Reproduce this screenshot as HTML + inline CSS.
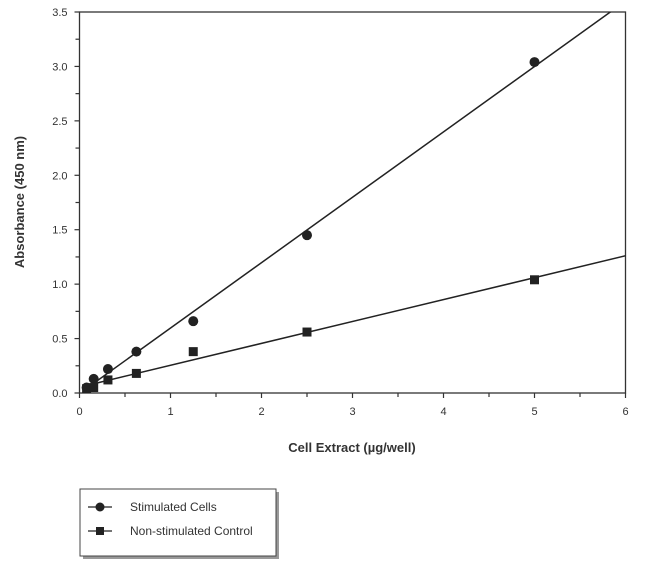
<!DOCTYPE html>
<html><head><meta charset="utf-8"><style>
body{margin:0;background:#fff;}
svg text{font-family:"Liberation Sans",Arial,sans-serif;fill:#333;}
</style></head><body>
<svg width="650" height="571" viewBox="0 0 650 571" xmlns="http://www.w3.org/2000/svg" id="chart">
<defs><clipPath id="plotclip"><rect x="79.5" y="12" width="546" height="381"/></clipPath></defs>
<g id="axes"></g>
<g id="marks" clip-path="url(#plotclip)"></g>
<g id="pts"></g>
<text x="352" y="452" text-anchor="middle" font-size="13" font-weight="bold">Cell Extract (µg/well)</text>
<text transform="translate(24,202) rotate(-90)" text-anchor="middle" font-size="13" font-weight="bold">Absorbance (450 nm)</text>
<g>
<rect x="83" y="492" width="196" height="67" fill="#999"/>
<rect x="80" y="489" width="196" height="67" fill="#fff" stroke="#444" stroke-width="1"/>
<g>
<line x1="88" y1="507" x2="112" y2="507" stroke="#222" stroke-width="1.2"/>
<circle cx="100" cy="507" r="4.5" fill="#222"/>
<text x="130" y="511" font-size="12">Stimulated Cells</text></g>
<g>
<line x1="88" y1="531" x2="112" y2="531" stroke="#222" stroke-width="1.2"/>
<rect x="96" y="527" width="8" height="8" fill="#222"/>
<text x="130" y="535" font-size="12">Non-stimulated Control</text></g>
</g>
</svg>
<script>
const xValues=[0.078,0.156,0.3125,0.625,1.25,2.5,5];
const stimulated=[0.05,0.13,0.22,0.38,0.66,1.45,3.04];
const control=[0.04,0.05,0.12,0.18,0.38,0.56,1.04];
const xTicks=[0,1,2,3,4,5,6];
const yTicks=["0.0","0.5","1.0","1.5","2.0","2.5","3.0","3.5"];
const NS="http://www.w3.org/2000/svg";
const X0=79.5,X1=625.5,Y0=393,Y1=12;
const xs=v=>X0+v/6*(X1-X0);
const ys=v=>Y0-v/3.5*(Y0-Y1);
function mk(tag,attrs,parent){const e=document.createElementNS(NS,tag);for(const k in attrs)e.setAttribute(k,attrs[k]);parent.appendChild(e);return e;}
const axes=document.getElementById('axes'),marks=document.getElementById('marks'),pts=document.getElementById('pts');
const frame=mk('rect',{x:X0,y:Y1,width:X1-X0,height:Y0-Y1,fill:'none',stroke:'#333','stroke-width':1.3},axes);


for(let i=0;i<=12;i++){const v=i*0.5;const t=mk('line',{x1:xs(v),x2:xs(v),y1:Y0,y2:Y0+(i%2?4:5),stroke:'#333','stroke-width':1.2},axes);

}
xTicks.forEach(v=>{const t=mk('text',{x:xs(v),y:Y0+22,'text-anchor':'middle','font-size':11},axes);t.textContent=v;

});
for(let i=0;i<=14;i++){const v=i*0.25;const t=mk('line',{x1:X0-(i%2?4:5),x2:X0,y1:ys(v),y2:ys(v),stroke:'#333','stroke-width':1.2},axes);

}
yTicks.forEach(s=>{const t=mk('text',{x:X0-12,y:ys(parseFloat(s))+4,'text-anchor':'end','font-size':11},axes);t.textContent=s;

});
function fit(xv,yv){const n=xv.length;let sx=0,sy=0,sxx=0,sxy=0;for(let i=0;i<n;i++){sx+=xv[i];sy+=yv[i];sxx+=xv[i]*xv[i];sxy+=xv[i]*yv[i];}const m=(n*sxy-sx*sy)/(n*sxx-sx*sx);return [m,(sy-m*sx)/n];}
function series(yv,name,shape){
const [m,b]=fit(xValues,yv);const xa=0.05,xb=6.5;
const l=mk('line',{x1:xs(xa),y1:ys(m*xa+b),x2:xs(xb),y2:ys(m*xb+b),stroke:'#222','stroke-width':1.5},marks);


xValues.forEach((x,i)=>{let p;
if(shape==='circle')p=mk('circle',{cx:xs(x),cy:ys(yv[i]),r:5,fill:'#222'},pts);
else p=mk('rect',{x:xs(x)-4.5,y:ys(yv[i])-4.5,width:9,height:9,fill:'#222'},pts);

});}
series(stimulated,'stimulated','circle');
series(control,'control','square');
</script>
</body></html>
